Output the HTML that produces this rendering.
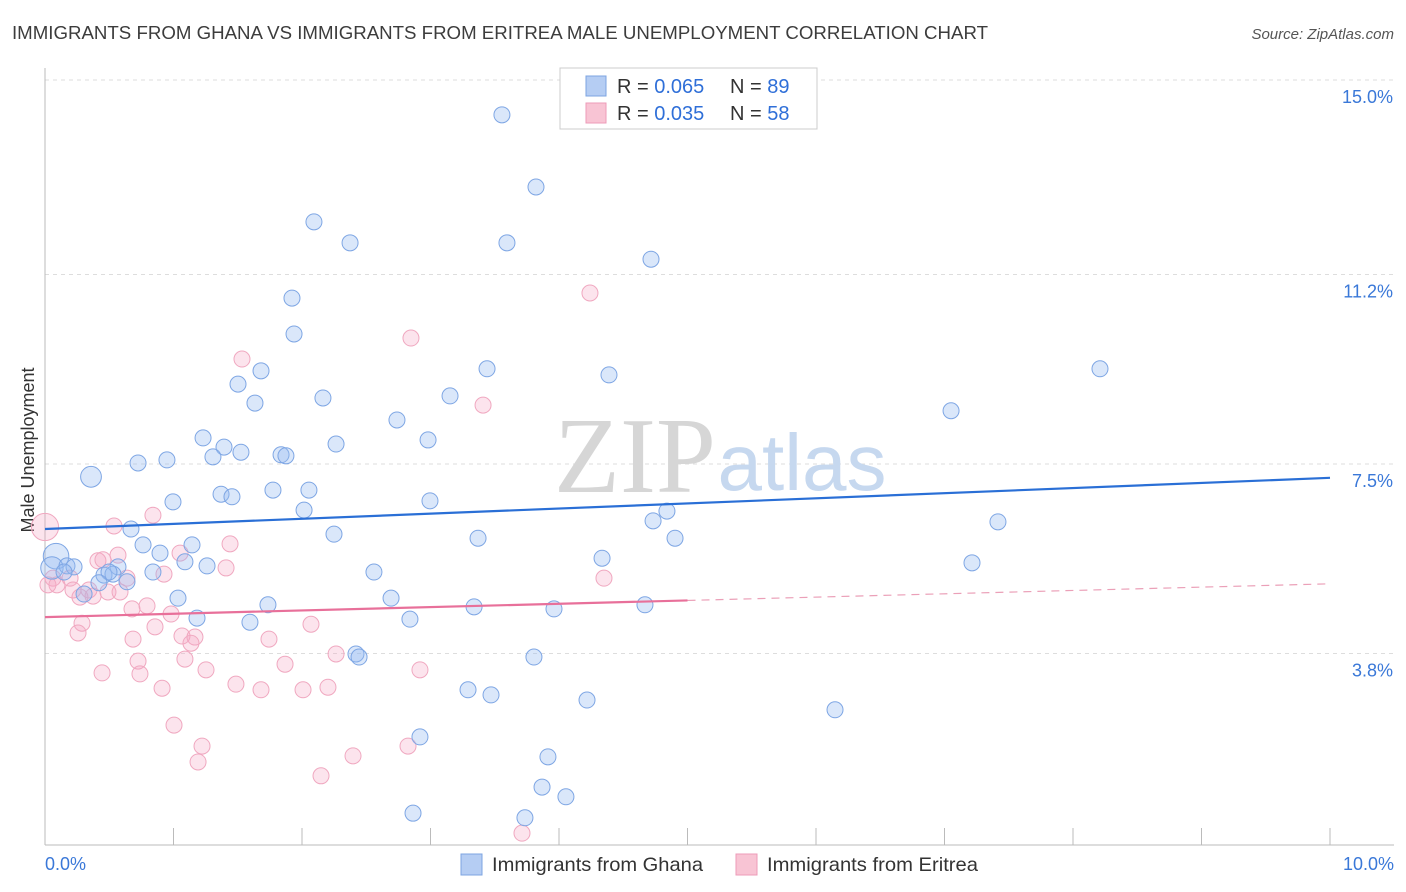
<!DOCTYPE html>
<html><head><meta charset="utf-8"><style>
body{margin:0;background:#fff;font-family:"Liberation Sans",sans-serif;}
svg{display:block}
</style></head><body>
<svg id="chart" width="1406" height="892">
<text x="12" y="39" font-size="18" fill="#3c3c3c" textLength="976" lengthAdjust="spacingAndGlyphs">IMMIGRANTS FROM GHANA VS IMMIGRANTS FROM ERITREA MALE UNEMPLOYMENT CORRELATION CHART</text>
<text x="1394" y="39" font-size="15" fill="#555" text-anchor="end" font-style="italic">Source: ZipAtlas.com</text>
<text x="40" y="456" font-size="18" fill="#333" text-anchor="middle" transform="rotate(-90 34 456)">Male Unemployment</text>
<g id="grid"></g>
<g>
<text x="635" y="492" font-size="108" fill="#d6d6d6" font-family="Liberation Serif,serif" text-anchor="middle">ZIP</text>
<text x="802" y="490" font-size="80" fill="#c6d8ef" text-anchor="middle">atlas</text>
</g>
<g id="pts"></g>
<g id="trend"></g>
<g>
<rect x="560" y="68" width="257" height="61" fill="#fff" stroke="#ccc"/>
<rect x="586" y="76" width="20" height="20" fill="#b5cdf3" stroke="#7da4e2"/>
<rect x="586" y="103" width="20" height="20" fill="#f8c4d4" stroke="#ee9bb8"/>
<text x="617" y="93" font-size="20" fill="#333">R = <tspan fill="#2f6fd8">0.065</tspan></text>
<text x="730" y="93" font-size="20" fill="#333">N = <tspan fill="#2f6fd8">89</tspan></text>
<text x="617" y="120" font-size="20" fill="#333">R = <tspan fill="#2f6fd8">0.035</tspan></text>
<text x="730" y="120" font-size="20" fill="#333">N = <tspan fill="#2f6fd8">58</tspan></text>
</g>
<g>
<rect x="461" y="854" width="21" height="21" fill="#b5cdf3" stroke="#7da4e2"/>
<text x="492" y="871" font-size="19.5" fill="#333" textLength="211" lengthAdjust="spacingAndGlyphs">Immigrants from Ghana</text>
<rect x="736" y="854" width="21" height="21" fill="#f8c4d4" stroke="#ee9bb8"/>
<text x="767" y="871" font-size="19.5" fill="#333" textLength="211" lengthAdjust="spacingAndGlyphs">Immigrants from Eritrea</text>
</g>
</svg>
<script>
const yTicks=[15.0,11.2,7.5,3.8];
const yTickLabels=["15.0%","11.2%","7.5%","3.8%"];
const xTicks=[0,1,2,3,4,5,6,7,8,9,10];
const xEndLabels=["0.0%","10.0%"];
const ghanaX=[3.556,3.821,2.093,2.374,3.595,4.716,1.922,1.938,3.44,4.389,1.681,1.502,8.21,2.163,1.634,3.152,7.051,2.739,1.23,2.981,2.265,1.393,1.525,1.307,1.837,1.875,.724,.949,.358,1.37,1.455,1.774,2.054,2.996,.996,2.016,4.84,4.732,7.416,.669,2.249,3.37,4.903,.763,1.144,.895,4.335,7.214,1.089,.086,.054,.171,.226,.148,.568,.84,1.261,.459,.529,.498,2.56,.42,.638,.304,1.035,2.693,1.735,3.339,3.961,4.669,1.183,1.595,2.84,2.42,2.444,3.805,3.292,3.471,4.218,6.148,2.918,3.914,3.868,4.054,2.864,3.735];
const ghanaY=[14.32,12.91,12.23,11.82,11.82,11.5,10.74,10.04,9.36,9.24,9.32,9.06,9.36,8.79,8.69,8.83,8.54,8.36,8.01,7.97,7.89,7.83,7.73,7.64,7.68,7.66,7.52,7.58,7.25,6.91,6.86,6.99,6.99,6.78,6.76,6.6,6.58,6.39,6.37,6.23,6.13,6.05,6.05,5.92,5.92,5.76,5.66,5.57,5.59,5.7,5.47,5.51,5.49,5.39,5.49,5.39,5.51,5.33,5.35,5.39,5.39,5.18,5.2,4.96,4.88,4.88,4.75,4.71,4.67,4.75,4.49,4.41,4.47,3.79,3.73,3.73,3.09,2.99,2.89,2.7,2.17,1.78,1.19,1.0,.68,.59];
const ghanaSize=[];ghanaX.forEach((v,i)=>ghanaSize.push(1));
ghanaSize[49]=1.6;ghanaSize[50]=1.4;ghanaSize[28]=1.3;
const eritreaX=[0,4.241,2.848,1.533,3.409,.84,.537,1.44,.568,1.051,.412,.451,1.409,.926,.638,.062,.195,.023,.093,.218,.342,.49,.584,4.35,.272,.374,.677,.794,.981,2.07,.288,.856,.257,1.066,1.167,.685,1.743,1.136,2.265,.724,1.089,.444,.739,1.253,2.918,1.868,.911,1.486,1.681,2.008,2.202,1.004,1.222,1.191,2.825,2.397,2.148,3.712];
const eritreaY=[6.27,10.84,9.96,9.55,8.65,6.5,6.29,5.94,5.72,5.76,5.61,5.63,5.47,5.35,5.27,5.27,5.27,5.14,5.14,5.04,5.04,5.0,5.0,5.27,4.9,4.92,4.67,4.73,4.57,4.37,4.39,4.32,4.2,4.14,4.12,4.08,4.08,4.0,3.79,3.65,3.69,3.42,3.4,3.48,3.48,3.59,3.12,3.2,3.09,3.09,3.14,2.4,1.99,1.68,1.99,1.8,1.41,.29];
const eritreaSize=[];eritreaX.forEach(()=>eritreaSize.push(1));eritreaSize[0]=1.7;
const ghanaTrend=[6.23,7.23];
const eritreaTrend=[4.51,5.16];
const eritreaSolidEnd=5;

const NS="http://www.w3.org/2000/svg";
const X0=45,X1=1330,Y15=80,PXPER=51.2;
const sx=v=>X0+(X1-X0)*v/10;
const sy=v=>Y15+(15-v)*PXPER;
function mk(tag,attrs,parent){const e=document.createElementNS(NS,tag);for(const k in attrs)e.setAttribute(k,attrs[k]);parent.appendChild(e);return e;}
const grid=document.getElementById('grid');
yTicks.forEach((t,i)=>{
  const l=mk('line',{x1:X0,x2:1394,y1:sy(t),y2:sy(t),stroke:'#ddd','stroke-dasharray':'4,4'},grid);
  
  
  const tx=mk('text',{x:1393,y:sy(t)+23,'font-size':18,fill:'#3a78d8','text-anchor':'end'},grid);
  tx.textContent=yTickLabels[i];
  
  
});
const ax=mk('line',{x1:X0,x2:X0,y1:68,y2:845,stroke:'#bbb'},grid);


const bx=mk('line',{x1:X0,x2:1394,y1:845,y2:845,stroke:'#bbb'},grid);


xTicks.forEach(t=>{
  const l=mk('line',{x1:sx(t),x2:sx(t),y1:828,y2:845,stroke:'#bbb'},grid);
  
  
});
[[0,'start',45],[10,'end',1394]].forEach((a,i)=>{
  const tx=mk('text',{x:a[2],y:870,'font-size':18,fill:'#3a78d8','text-anchor':a[1]},grid);
  tx.textContent=xEndLabels[i];
  
  
});
const pts=document.getElementById('pts');
eritreaX.forEach((x,i)=>{
  const c=mk('circle',{cx:sx(x),cy:sy(eritreaY[i]),r:8*eritreaSize[i],fill:'rgba(245,165,195,0.3)',stroke:'#f0a8c0','stroke-width':1},pts);
  
  
});
ghanaX.forEach((x,i)=>{
  const c=mk('circle',{cx:sx(x),cy:sy(ghanaY[i]),r:8*ghanaSize[i],fill:'rgba(150,185,240,0.35)',stroke:'#7ea6e4','stroke-width':1},pts);
  
  
});
const tr=document.getElementById('trend');
const gl=mk('line',{x1:sx(0),y1:sy(ghanaTrend[0]),x2:sx(10),y2:sy(ghanaTrend[1]),stroke:'#2a6fd6','stroke-width':2.2},tr);


const em=eritreaTrend[0]+(eritreaTrend[1]-eritreaTrend[0])*eritreaSolidEnd/10;
const el1=mk('line',{x1:sx(0),y1:sy(eritreaTrend[0]),x2:sx(eritreaSolidEnd),y2:sy(em),stroke:'#e8709a','stroke-width':2.2},tr);


const el2=mk('line',{x1:sx(eritreaSolidEnd),y1:sy(em),x2:sx(10),y2:sy(eritreaTrend[1]),stroke:'#eba0b8','stroke-width':1.2,'stroke-dasharray':'8,6'},tr);


</script>
</body></html>
